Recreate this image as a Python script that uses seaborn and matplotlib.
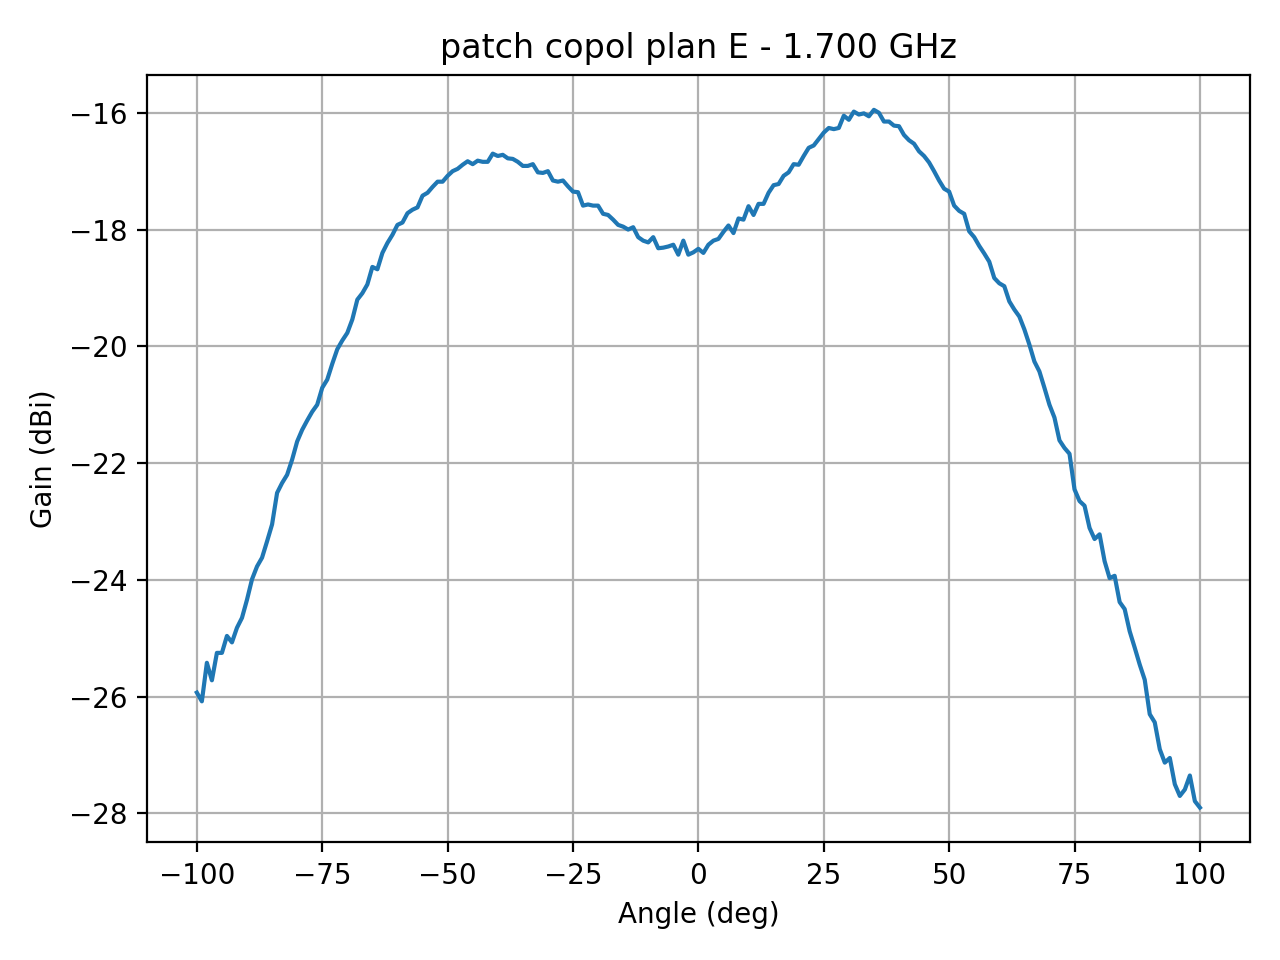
import numpy as np
import pandas as pd
import matplotlib
matplotlib.use("Agg")
import matplotlib.pyplot as plt
import seaborn as sns

title = "patch copol plan E - 1.700 GHz"
angle_start = -100
angle_stop = 100

gain_neg = [
    -25.93, -26.08, -25.42, -25.72, -25.25, -25.25, -24.96, -25.07, -24.82, -24.65,  # -100..-91
    -24.34, -23.99, -23.77, -23.62, -23.34, -23.05, -22.51, -22.34, -22.20, -21.94,  # -90..-81
    -21.63, -21.43, -21.27, -21.12, -21.00, -20.71, -20.57, -20.30, -20.05, -19.90,  # -80..-71
    -19.77, -19.54, -19.20, -19.09, -18.94, -18.64, -18.68, -18.40, -18.23, -18.09,  # -70..-61
    -17.92, -17.88, -17.72, -17.66, -17.62, -17.42, -17.37, -17.27, -17.18, -17.18,  # -60..-51
    -17.08, -17.00, -16.96, -16.89, -16.83, -16.88, -16.82, -16.84, -16.84, -16.70,  # -50..-41
    -16.74, -16.72, -16.78, -16.79, -16.84, -16.91, -16.91, -16.88, -17.02, -17.03,  # -40..-31
    -17.00, -17.16, -17.18, -17.16, -17.26, -17.35, -17.36, -17.59, -17.57, -17.59,  # -30..-21
    -17.59, -17.73, -17.75, -17.83, -17.92, -17.95, -18.00, -17.96, -18.13, -18.19,  # -20..-11
    -18.22, -18.13, -18.32, -18.31, -18.29, -18.26, -18.43, -18.19, -18.43, -18.39,  # -10..-1
]
gain_pos = [
    -18.33,                                                                          # 0
    -18.40, -18.26, -18.19, -18.16, -18.04, -17.93, -18.06, -17.81, -17.83, -17.60,  # 1..10
    -17.75, -17.56, -17.56, -17.37, -17.24, -17.22, -17.08, -17.02, -16.88, -16.89,  # 11..20
    -16.74, -16.60, -16.56, -16.45, -16.34, -16.26, -16.28, -16.26, -16.05, -16.12,  # 21..30
    -15.98, -16.03, -16.01, -16.06, -15.95, -16.00, -16.15, -16.15, -16.22, -16.23,  # 31..40
    -16.38, -16.47, -16.53, -16.66, -16.74, -16.85, -17.00, -17.16, -17.30, -17.35,  # 41..50
    -17.59, -17.68, -17.73, -18.03, -18.13, -18.28, -18.41, -18.55, -18.83, -18.92,  # 51..60
    -18.97, -19.23, -19.37, -19.49, -19.71, -19.97, -20.26, -20.43, -20.71, -21.00,  # 61..70
    -21.22, -21.61, -21.74, -21.84, -22.45, -22.65, -22.73, -23.11, -23.30, -23.22,  # 71..80
    -23.68, -23.97, -23.93, -24.38, -24.50, -24.88, -25.16, -25.45, -25.71, -26.30,  # 81..90
    -26.44, -26.90, -27.13, -27.05, -27.50, -27.70, -27.59, -27.35, -27.79, -27.90,  # 91..100
]

gain = gain_neg + gain_pos
angles = np.arange(angle_start, angle_stop + 1)
df = pd.DataFrame({"angle": angles, "gain": gain})

fig, ax = plt.subplots(figsize=(6.4, 4.8), dpi=200)
sns.lineplot(data=df, x="angle", y="gain", ax=ax, color="#1f77b4", linewidth=1.5)
ax.set_title(title)
ax.set_xlabel("Angle (deg)")
ax.set_ylabel("Gain (dBi)")
ax.grid(True)
fig.subplots_adjust(left=0.1146, right=0.9766, top=0.9219, bottom=0.1224)
fig.savefig("out.png", dpi=200)
